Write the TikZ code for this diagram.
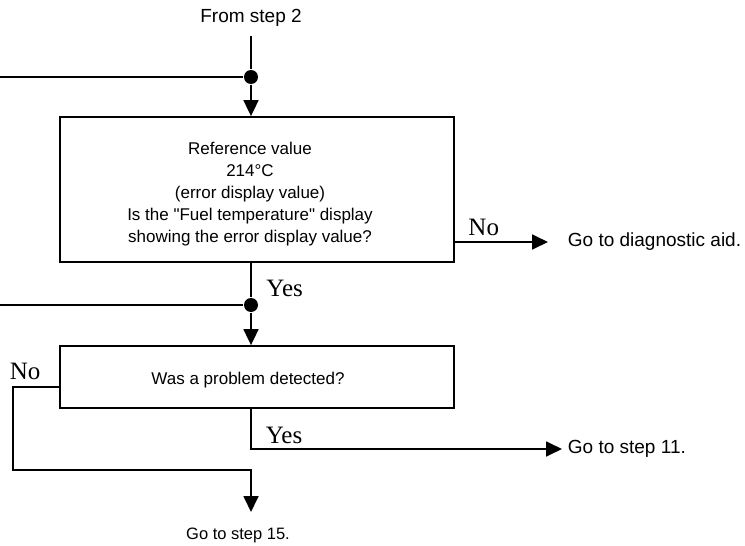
\documentclass[tikz,border=0pt]{standalone}
\usepackage{fontspec}
\setmainfont{Liberation Serif}
\newfontfamily\gothic{Liberation Sans}
\usetikzlibrary{arrows.meta,positioning}

\begin{document}
\begin{tikzpicture}[
      x=1pt, y=-1pt,
      >={Triangle[length=16pt,width=15pt]},
      line width=1.8pt,
      font=\gothic\fontsize{17}{22}\selectfont,
      check/.style ={rectangle, draw, minimum width=394pt},
      answer/.style={font=\fontsize{25}{25}\selectfont, inner sep=0pt},
      target/.style={font=\gothic\fontsize{19}{22}\selectfont, inner sep=0pt},
      joint/.style ={circle, fill, inner sep=0pt, minimum size=14pt}
    ]
    \useasboundingbox (0,0) rectangle (745,546);

    \node[target] (from) at (251,18) {From step 2};
    \node[joint] (dot1) at (251,77) {};
    \coordinate (left1) at (0,77);

    \node[check, minimum height=145pt] (check) at (257,189.5) {};
    \node[align=center] (check_text) at (250,194)
      {Reference value\\214°C\\(error display value)\\Is the "Fuel temperature" display\\showing the error display value?};

    \coordinate (aid_in) at (548,242);
    \node[target, right=19pt of aid_in] (aid) {Go to diagnostic aid.};

    \node[joint] (dot2) at (251,305) {};
    \coordinate (left2) at (0,305);
    \node[answer, above right=2pt and 9pt of dot2] (yes1) {Yes};

    \node[check, minimum height=62pt] (problem) at (257,377) {};
    \node (problem_text) at (248,380) {Was a problem detected?};

    \coordinate (step11_in) at (562,449);
    \node[target, right=5pt of step11_in] (step11) {Go to step 11.};
    \node[answer, anchor=south west] (yes2) at (265,445) {Yes};

    \coordinate (loop_top) at (13,387);
    \coordinate (loop_bot) at (13,470);
    \coordinate (step15_in) at (251,512);
    \node[answer, anchor=south west] (no2) at (9,381) {No};
    \node[target, font=\gothic\fontsize{16.5}{20}\selectfont,
          below=15pt of step15_in, xshift=-13pt] (step15) {Go to step 15.};

    \draw[shorten <=8pt] (from) -- (dot1);
    \draw (left1) -- (dot1);
    \draw[->] (dot1) -- (dot1 |- check.north);

    \draw[->] (check.east |- aid_in) -- node[answer, above=5pt, pos=0.31] (no1) {No} (aid_in);

    \draw (dot2 |- check.south) -- (dot2);
    \draw (left2) -- (dot2);
    \draw[->] (dot2) -- (dot2 |- problem.north);

    \draw[->] (dot2 |- problem.south) -- (dot2 |- step11_in) -- (step11_in);
    \draw[->] (problem.west |- loop_top) -- (loop_top) -- (loop_bot)
          -- (loop_bot -| step15_in) -- (step15_in);
\end{tikzpicture}
\end{document}
